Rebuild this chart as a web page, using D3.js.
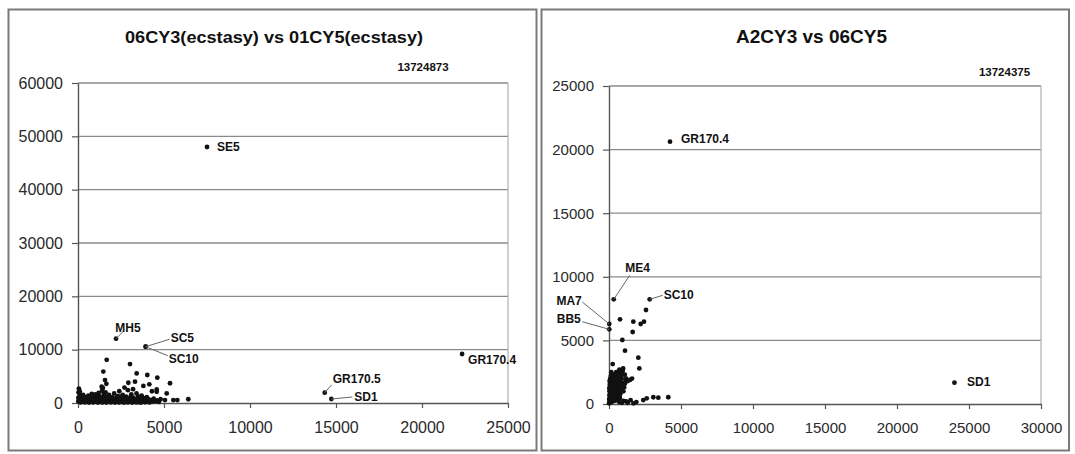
<!DOCTYPE html>
<html><head><meta charset="utf-8">
<script src="https://cdn.jsdelivr.net/npm/d3@7"></script>
<style>
body{margin:0;background:#fff}
svg{display:block}
text{font-family:Arial,"Liberation Sans",sans-serif}
</style>
</head><body>
<svg id="chart" width="1075" height="454"></svg>
<script>
// ---------- data: left chart ----------
const leftTitle = "06CY3(ecstasy) vs 01CY5(ecstasy)";
const leftId = "13724873";
const leftXTicks = [0, 5000, 10000, 15000, 20000, 25000];
const leftYTicks = [0, 10000, 20000, 30000, 40000, 50000, 60000];
const leftPoints = [
  [50,2700],[100,2200],[80,1800],[150,1500],[200,1200],[300,900],[400,1100],[500,700],[600,1400],[700,900],
  [800,1700],[900,500],[1000,1200],[1100,800],[1200,1900],[1300,1000],[1400,600],[1500,1300],[1600,2000],[1700,900],
  [1800,1500],[1900,700],[2000,1100],[2100,1800],[2200,600],[2300,1300],[2400,2200],[2500,900],[2600,1500],[2700,500],
  [2800,1200],[2900,2400],[3000,800],[3100,1600],[3200,1000],[3300,600],[3400,1800],[3500,1200],[3600,700],[3700,1400],
  [3800,900],[3900,500],[4000,1100],[4200,600],[4400,800],[4600,500],[4800,700],
  [20,300],[60,600],[120,400],[180,200],[250,500],[350,300],[450,400],[550,200],[650,500],[750,300],
  [850,150],[950,400],[1050,250],[1150,450],[1250,200],[1350,350],[1450,150],[1550,400],[1650,250],[1750,500],
  [1850,300],[1950,200],[2050,450],[2150,250],[2250,350],[2350,150],[2450,400],[2550,250],[2650,300],[2750,150],
  [2850,400],[2950,200],[3050,350],[3150,150],[3250,300],[3350,200],[3450,400],[3550,150],[3650,300],[3750,200],
  [3850,350],[4100,300],[4300,250],[4500,350],[4700,200],
  [300,1500],[500,1000],[700,1200],[1000,1600],[1200,1400],[1500,1700],[1400,2300],[1450,2800],[20,1000],[30,2000],
  [250,800],[450,900],[650,1100],[850,1000],[1050,900],[1250,1200],[1450,1000],[1650,1200],[1850,1000],[2050,800],
  [2250,1000],[2450,1200],[2650,900],[2850,800],[3050,1100],[3250,700],[3450,900],[3650,1000],[3850,700],[4050,800],
  [150,100],[400,100],[650,80],[900,120],[1150,90],[1400,110],[1650,80],[1900,100],[2150,90],[2400,110],
  [2650,80],[2900,100],[3150,90],[3400,100],[3650,80],[3900,120],[4150,100],
  [1668,8100],[3023,7300],[1473,5900],[3410,5550],[4030,5250],[4612,4750],[1570,4300],[3314,4000],[2926,3800],[5350,3700],
  [4147,3500],[1375,3050],[4575,2550],[5157,1800],[6413,700],[5058,550],[5543,550],[5775,550],[4575,2100],[3800,3200],
  [3200,2600],[2700,2900],[1650,3600],[4300,2200]
];
const leftLabelled = [
  {name:"SE5", x:7500, y:48000},
  {name:"MH5", x:2210, y:12060},
  {name:"SC5", x:3935, y:10560},
  {name:"SC10", x:3935, y:10560},
  {name:"GR170.4", x:22330, y:9190},
  {name:"GR170.5", x:14345, y:1930},
  {name:"SD1", x:14730, y:750}
];

// ---------- data: right chart ----------
const rightTitle = "A2CY3 vs 06CY5";
const rightId = "13724375";
const rightXTicks = [0, 5000, 10000, 15000, 20000, 25000, 30000];
const rightYTicks = [0, 5000, 10000, 15000, 20000, 25000];
const rightPoints = [
  [20,100],[50,300],[80,600],[100,900],[30,1200],[60,1500],[40,1800],[90,2000],[120,200],[150,500],
  [180,800],[200,1100],[220,1400],[250,1700],[280,2000],[300,2300],[320,400],[350,700],[380,1000],[400,1300],
  [420,1600],[450,1900],[480,2200],[500,2500],[520,300],[550,600],[580,900],[600,1200],[620,1500],[650,1800],
  [680,2100],[700,2400],[720,2700],[750,500],[780,800],[800,1100],[820,1400],[850,1700],[880,2000],[900,2300],
  [950,2600],[980,2800],[1000,1000],[1050,1300],[1100,1600],[1150,1900],[1200,2000],[10,50],[15,400],[25,700],
  [35,1000],[45,1300],[70,1600],[110,1900],[130,2200],[160,2500],[190,150],[210,450],[240,750],[260,1050],
  [290,1350],[310,1650],[340,1950],[360,2250],[390,250],[410,550],[440,850],[460,1150],[490,1450],[510,1750],
  [540,2050],[560,350],[590,650],[610,950],[640,1250],[660,1550],[690,1850],[710,150],[740,450],[760,750],[790,1050],
  [1200,200],[1500,300],[1700,50],[1900,150],[2380,310],[2620,450],[3080,530],[3424,500],[4118,530],[1300,100],
  [900,100],[1000,250],
  [1460,1890],[993,1630],[1600,2000],[1300,1800],[1100,2300],[880,2670],[257,3140],[2106,2800],[2037,3640],[1111,4190],
  [926,5030],[1644,5660],[2200,6290],[2430,6470],[1690,6470],[764,6660],[2569,7390]
];
const rightLabelled = [
  {name:"GR170.4", x:4236, y:20620},
  {name:"ME4", x:330, y:8230},
  {name:"MA7", x:20, y:6290},
  {name:"BB5", x:20, y:5870},
  {name:"SC10", x:2826, y:8230},
  {name:"SD1", x:23990, y:1680}
];

// ---------- layout (positions & styles only) ----------
const panels = [
  {
    title: leftTitle, id: leftId, xTicks: leftXTicks, yTicks: leftYTicks,
    points: leftPoints, labelled: leftLabelled,
    frame: {x:8.5, y:9.5, w:528, h:441},
    plot: {l:78, r:508, t:83, b:403},
    xMax: 25000, yMax: 60000,
    titleX: 274, titleY: 43, titleSize: 16.5, titleLen: 298,
    idX: 423, idY: 70.5,
    tickSize: 16, yPad: 9, xPad: 14,
    offsets: {
      "SE5":{dx:10, dy:3.5},
      "MH5":{dx:-0.7, dy:-6.5, lx:8, ly:-8},
      "SC5":{dx:25, dy:-5, lx:24, ly:-7.5},
      "SC10":{dx:23, dy:16, lx:22, ly:9},
      "GR170.4":{dx:6, dy:10.5},
      "GR170.5":{dx:8, dy:-10, lx:7, ly:-8},
      "SD1":{dx:23, dy:1.5, lx:21, ly:-2}
    }
  },
  {
    title: rightTitle, id: rightId, xTicks: rightXTicks, yTicks: rightYTicks,
    points: rightPoints, labelled: rightLabelled,
    frame: {x:541.5, y:9.5, w:527.5, h:441},
    plot: {l:609, r:1041, t:86, b:404},
    xMax: 30000, yMax: 25000,
    titleX: 811.5, titleY: 43, titleSize: 19, titleLen: null,
    idX: 1004.5, idY: 76,
    tickSize: 15, yPad: 9, xPad: 13,
    offsets: {
      "GR170.4":{dx:11, dy:1},
      "ME4":{dx:11.5, dy:-27, lx:16, ly:-24},
      "MA7":{dx:-27.5, dy:-18.5, lx:-27, ly:-22, anchor:"end"},
      "BB5":{dx:-28.5, dy:-6, lx:-27, ly:-7.6, anchor:"end"},
      "SC10":{dx:14, dy:0, lx:13, ly:-4},
      "SD1":{dx:12.6, dy:3}
    }
  }
];

const svg = d3.select("#chart");

panels.forEach(p => {
  const g = svg.append("g");
  // frame
  g.append("rect").attr("x", p.frame.x).attr("y", p.frame.y)
    .attr("width", p.frame.w).attr("height", p.frame.h)
    .attr("fill", "#fff").attr("stroke", "#7a7a7a").attr("stroke-width", 2);

  const x = d3.scaleLinear().domain([0, p.xMax]).range([p.plot.l, p.plot.r]);
  const y = d3.scaleLinear().domain([0, p.yMax]).range([p.plot.b, p.plot.t]);

  // gridlines
  g.append("g").selectAll("line").data(p.yTicks.filter(v => v > 0)).join("line")
    .attr("x1", p.plot.l).attr("x2", p.plot.r)
    .attr("y1", d => y(d)).attr("y2", d => y(d))
    .attr("stroke", "#8a8a8a").attr("stroke-width", 1.3);
  // plot-area right border
  g.append("line").attr("x1", p.plot.r).attr("x2", p.plot.r)
    .attr("y1", p.plot.t).attr("y2", p.plot.b)
    .attr("stroke", "#b0b0b0").attr("stroke-width", 1.2);

  // axes
  const ya = g.append("g").attr("transform", `translate(${p.plot.l},0)`)
    .call(d3.axisLeft(y).tickValues(p.yTicks).tickFormat(d3.format("d"))
      .tickSize(6).tickSizeOuter(0).tickPadding(p.yPad));
  const xa = g.append("g").attr("transform", `translate(0,${p.plot.b})`)
    .call(d3.axisBottom(x).tickValues(p.xTicks).tickFormat(d3.format("d"))
      .tickSize(5).tickSizeOuter(0).tickPadding(p.xPad));
  [ya, xa].forEach(a => {
    a.select(".domain").attr("stroke", "#555").attr("stroke-width", 1.4);
    a.selectAll(".tick line").attr("stroke", "#555").attr("stroke-width", 1.2);
    a.selectAll(".tick text").attr("fill", "#2a2a2a")
      .style("font-size", p.tickSize + "px").style("font-family", "Arial, 'Liberation Sans', sans-serif");
  });

  // title
  const t = g.append("text").attr("x", p.titleX).attr("y", p.titleY)
    .attr("text-anchor", "middle").attr("font-weight", "bold")
    .attr("font-size", p.titleSize).attr("fill", "#111").text(p.title);
  if (p.titleLen) t.attr("textLength", p.titleLen).attr("lengthAdjust", "spacingAndGlyphs");

  // id
  g.append("text").attr("x", p.idX).attr("y", p.idY).attr("text-anchor", "middle")
    .attr("font-weight", "bold").attr("font-size", 11.5).attr("fill", "#111").text(p.id);

  // points
  g.append("g").selectAll("circle").data(p.points).join("circle")
    .attr("cx", d => x(d[0])).attr("cy", d => y(d[1])).attr("r", 2.4).attr("fill", "#111");
  g.append("g").selectAll("circle").data(p.labelled).join("circle")
    .attr("cx", d => x(d.x)).attr("cy", d => y(d.y)).attr("r", 2.4).attr("fill", "#111");

  // leader lines
  const withLeader = p.labelled.filter(d => p.offsets[d.name].lx !== undefined);
  g.append("g").selectAll("line").data(withLeader).join("line")
    .attr("x1", d => x(d.x)).attr("y1", d => y(d.y))
    .attr("x2", d => x(d.x) + p.offsets[d.name].lx)
    .attr("y2", d => y(d.y) + p.offsets[d.name].ly)
    .attr("stroke", "#666").attr("stroke-width", 1);

  // labels
  g.append("g").selectAll("text").data(p.labelled).join("text")
    .attr("x", d => x(d.x) + p.offsets[d.name].dx)
    .attr("y", d => y(d.y) + p.offsets[d.name].dy)
    .attr("text-anchor", d => p.offsets[d.name].anchor || "start")
    .attr("font-weight", "bold").attr("font-size", 12).attr("fill", "#111")
    .text(d => d.name);
});
</script>
</body></html>
